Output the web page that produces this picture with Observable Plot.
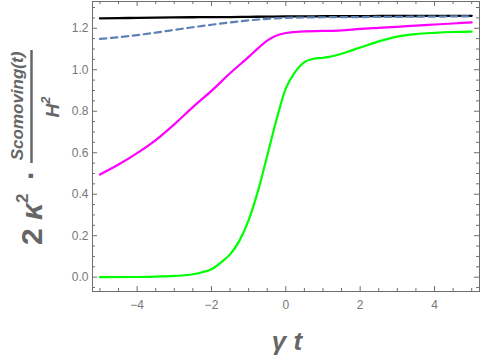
<!DOCTYPE html>
<html><head><meta charset="utf-8">
<script src="https://cdn.jsdelivr.net/npm/d3@7"></script>
<script src="https://cdn.jsdelivr.net/npm/@observablehq/plot@0.6"></script>
<style>html,body{margin:0;padding:0;background:#fff}#chart{width:480px;height:361px}</style>
</head><body><div id="chart"></div>
<script>
// ---- data ----
const xGrid = [-5,-4.5,-4,-3.5,-3,-2.5,-2,-1.5,-1,-0.5,0,0.5,1,1.5,2,2.5,3,3.5,4,4.5,5];
const blackY = [1.248,1.249,1.250,1.251,1.252,1.253,1.254,1.254,1.255,1.256,1.257,1.257,1.258,1.258,1.258,1.259,1.259,1.259,1.260,1.260,1.260];
const dashedY = [1.149,1.157,1.167,1.179,1.192,1.205,1.217,1.228,1.238,1.245,1.250,1.252,1.253,1.254,1.254,1.255,1.255,1.256,1.256,1.257,1.257];
const magentaX = [-5,-4.5,-4,-3.5,-3,-2.5,-2,-1.5,-1,-0.75,-0.5,-0.25,0,0.25,0.5,1,1.5,2,2.5,3,3.5,4,4.5,5];
const magentaY = [0.495,0.543,0.598,0.661,0.737,0.820,0.898,0.983,1.062,1.103,1.140,1.165,1.177,1.182,1.185,1.187,1.190,1.197,1.202,1.207,1.213,1.218,1.223,1.228];
const greenX = [-5,-4,-3.5,-3,-2.5,-2.25,-2,-1.75,-1.5,-1.25,-1,-0.75,-0.5,-0.25,0,0.25,0.5,0.75,1,1.25,1.5,1.75,2,2.5,3,3.5,4,4.5,5];
const greenY = [0.000,0.001,0.003,0.006,0.014,0.024,0.038,0.070,0.110,0.175,0.275,0.415,0.585,0.760,0.910,0.990,1.037,1.053,1.058,1.065,1.077,1.092,1.107,1.137,1.160,1.172,1.178,1.182,1.184];
const xMajor = [-4,-2,0,2,4];
const xMinor = [-5,-4.5,-3.5,-3,-2.5,-1.5,-1,-0.5,0.5,1,1.5,2.5,3,3.5,4.5,5];
const yMajor = [0,0.2,0.4,0.6,0.8,1.0,1.2];
const yMinor = [-0.05,0.05,0.1,0.15,0.25,0.3,0.35,0.45,0.5,0.55,0.65,0.7,0.75,0.85,0.9,0.95,1.05,1.1,1.15,1.25,1.3];

// ---- layout ----
const W = 480, H = 361, mL = 92, mR = 1, mT = 1, mB = 70;
const innerW = W - mL - mR, innerH = H - mT - mB;
const frameColor = "#6e6e6e", labelColor = "#666", tickLabelColor = "#777";
const font = "'Liberation Sans', Arial, sans-serif";

const rows = (xs, ys) => xs.map((x, i) => ({x, y: ys[i]}));
const black = rows(xGrid, blackY);
const dashed = rows(xGrid, dashedY);
const magenta = rows(magentaX, magentaY);
const green = rows(greenX, greenY);

const plot = Plot.plot({
  width: W, height: H,
  marginLeft: mL, marginRight: mR, marginTop: mT, marginBottom: mB,
  x: {domain: [-5.2, 5.21]},
  y: {domain: [-0.069, 1.329]},
  style: {fontFamily: font, fontSize: "12px", background: "#fff", overflow: "visible"},
  marks: [
    Plot.axisY(yMajor, {label: null, tickSize: 0, tickPadding: 4, tickFormat: d3.format(".1f"), fill: tickLabelColor, fontSize: 12}),
    Plot.axisX(xMajor, {label: null, tickSize: 0, tickPadding: 9, tickFormat: d => d < 0 ? "\u2212" + (-d) : String(d), fill: tickLabelColor, fontSize: 12}),
    // ticks inward on all four sides
    Plot.tickY(yMajor, {y: d => d, insetRight: innerW - 5, stroke: frameColor}),
    Plot.tickY(yMajor, {y: d => d, insetLeft: innerW - 5, stroke: frameColor}),
    Plot.tickY(yMinor, {y: d => d, insetRight: innerW - 3, stroke: frameColor}),
    Plot.tickY(yMinor, {y: d => d, insetLeft: innerW - 3, stroke: frameColor}),
    Plot.tickX(xMajor, {x: d => d, insetTop: innerH - 5, stroke: frameColor}),
    Plot.tickX(xMajor, {x: d => d, insetBottom: innerH - 5, stroke: frameColor}),
    Plot.tickX(xMinor, {x: d => d, insetTop: innerH - 3, stroke: frameColor}),
    Plot.tickX(xMinor, {x: d => d, insetBottom: innerH - 3, stroke: frameColor}),
    // curves
    Plot.line(black, {x: "x", y: "y", stroke: "#000", strokeWidth: 2.3, curve: "monotone-x"}),
    Plot.line(dashed, {x: "x", y: "y", stroke: "#5e81b5", strokeWidth: 2.2, strokeDasharray: "6.5,4.5", curve: "monotone-x"}),
    Plot.line(magenta, {x: "x", y: "y", stroke: "#ff00ff", strokeWidth: 2.2, curve: "monotone-x"}),
    Plot.line(green, {x: "x", y: "y", stroke: "#00ff00", strokeWidth: 2.2, curve: "monotone-x"}),
    Plot.frame({stroke: frameColor, strokeWidth: 1})
  ]
});
document.getElementById("chart").appendChild(plot);

// ---- axis labels ----
const svg = d3.select(plot);
const g = svg.append("g").attr("fill", labelColor).attr("font-family", font).attr("font-weight", "bold");

// x label
g.append("text").attr("x", 287).attr("y", 350).attr("text-anchor", "middle")
  .attr("font-size", 26).attr("font-style", "italic").text("γ t");

// y label (rotated)
const t1 = g.append("text").attr("transform", "translate(42,245) rotate(-90)")
  .attr("text-anchor", "start").attr("font-size", 30);
t1.append("tspan").text("2 ");
t1.append("tspan").attr("font-style", "italic").text("κ");
t1.append("tspan").attr("font-size", 17).attr("dy", -14).text("2");

g.append("text").attr("transform", "translate(41,175) rotate(-90)").attr("text-anchor", "middle")
  .attr("font-size", 30).text("·");

g.append("line").attr("x1", 31.5).attr("x2", 31.5).attr("y1", 50).attr("y2", 163)
  .attr("stroke", labelColor).attr("stroke-width", 2.5);

g.append("text").attr("transform", "translate(23,106) rotate(-90)").attr("text-anchor", "middle")
  .attr("font-size", 17).attr("font-style", "italic").text("Scomoving(t)");

const den = g.append("text").attr("transform", "translate(59,107) rotate(-90)").attr("text-anchor", "middle")
  .attr("font-size", 19).attr("font-style", "italic");
den.append("tspan").text("H");
den.append("tspan").attr("font-size", 13).attr("dy", -9).text("2");
</script>
</body></html>
